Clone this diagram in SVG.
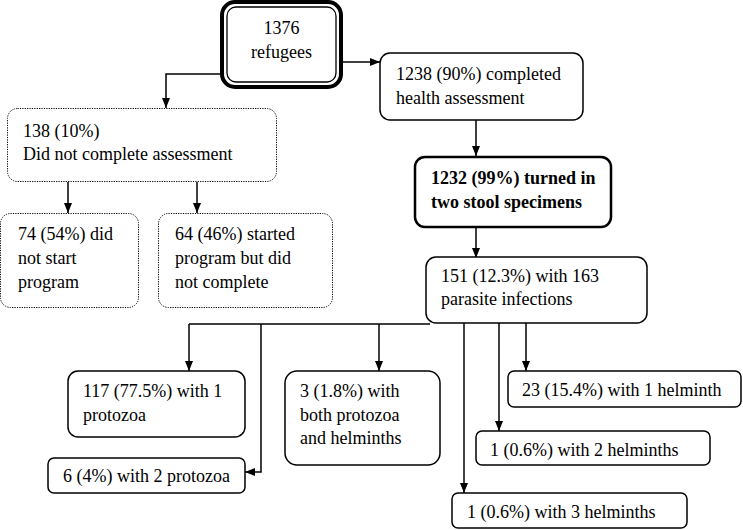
<svg xmlns="http://www.w3.org/2000/svg" width="743" height="530" viewBox="0 0 743 530">
<defs>
<marker id="ah" viewBox="0 0 10 8" refX="10" refY="4" markerWidth="10" markerHeight="8" markerUnits="userSpaceOnUse" orient="auto">
<path d="M0,0 L10,4 L0,8 z" fill="#000"/>
</marker>
<style>
.box{fill:#fff;stroke:#000;stroke-width:1.5}
.dot{fill:#fff;stroke:#000;stroke-width:1;stroke-dasharray:1.2,1.2}
.thick{fill:#fff;stroke:#000;stroke-width:2.5}
.c{fill:none;stroke:#000;stroke-width:1.5}
.a{fill:none;stroke:#000;stroke-width:1.5;marker-end:url(#ah)}
</style>
</defs>
<rect width="743" height="530" fill="#fff"/>
<g id="connectors">
<path class="a" d="M222,74 H166 V108"/>
<path class="a" d="M342,62 H380"/>
<path class="a" d="M476,120 V156"/>
<path class="a" d="M476,228 V258"/>
<path class="a" d="M68,182 V213"/>
<path class="a" d="M197,182 V213"/>
<path class="c" d="M189,324 H430"/>
<path class="a" d="M189,324 V371"/>
<path class="a" d="M261,324 V472 H245"/>
<path class="a" d="M379,324 V371"/>
<path class="a" d="M464,323 V493"/>
<path class="a" d="M499,323 V431"/>
<path class="a" d="M526,323 V371"/>
</g>
<g font-family="Liberation Serif" font-size="18" fill="#000">
<g id="n1376">
<rect x="222" y="2" width="119" height="85" rx="13" fill="#fff" stroke="#000" stroke-width="4"/>
<rect x="227" y="7" width="109" height="75" rx="9" fill="none" stroke="#000" stroke-width="1.3"/>
<text x="281.5" y="34" text-anchor="middle">1376</text>
<text x="281.5" y="58" text-anchor="middle">refugees</text>
</g>
<g id="n1238">
<rect class="box" x="380" y="53" width="203" height="67" rx="10"/>
<text x="396" y="80">1238 (90%) completed</text>
<text x="396" y="104">health assessment</text>
</g>
<g id="n1232">
<rect class="thick" x="415" y="157" width="196" height="70" rx="10"/>
<text x="431" y="184" font-weight="bold">1232 (99%) turned in</text>
<text x="431" y="208" font-weight="bold">two stool specimens</text>
</g>
<g id="n151">
<rect class="box" x="426" y="257" width="221" height="66" rx="10"/>
<text x="441" y="282">151 (12.3%) with 163</text>
<text x="441" y="305">parasite infections</text>
</g>
<g id="n138">
<rect class="dot" x="7.5" y="108.5" width="269" height="73" rx="10"/>
<text x="23" y="137">138 (10%)</text>
<text x="23" y="160">Did not complete assessment</text>
</g>
<g id="n74">
<rect class="dot" x="0.5" y="213.5" width="138" height="94" rx="10"/>
<text x="18" y="240">74 (54%) did</text>
<text x="18" y="264">not start</text>
<text x="18" y="288">program</text>
</g>
<g id="n64">
<rect class="dot" x="158.5" y="213.5" width="174" height="94" rx="10"/>
<text x="175" y="240">64 (46%) started</text>
<text x="175" y="264">program but did</text>
<text x="175" y="288">not complete</text>
</g>
<g id="n117">
<rect class="box" x="68" y="371" width="177" height="66" rx="10"/>
<text x="83" y="397">117 (77.5%) with 1</text>
<text x="83" y="421">protozoa</text>
</g>
<g id="n6">
<rect class="box" x="48" y="458" width="197" height="35" rx="6"/>
<text x="63" y="482">6 (4%) with 2 protozoa</text>
</g>
<g id="n3">
<rect class="box" x="285" y="371" width="155" height="94" rx="12"/>
<text x="300" y="397">3 (1.8%) with</text>
<text x="300" y="421">both protozoa</text>
<text x="300" y="444">and helminths</text>
</g>
<g id="n23">
<rect class="box" x="508" y="371" width="233" height="36" rx="6"/>
<text x="522" y="396">23 (15.4%) with 1 helminth</text>
</g>
<g id="n1h2">
<rect class="box" x="476" y="431" width="234" height="34" rx="6"/>
<text x="490" y="456">1 (0.6%) with 2 helminths</text>
</g>
<g id="n1h3">
<rect class="box" x="452" y="493" width="235" height="35" rx="6"/>
<text x="467" y="518">1 (0.6%) with 3 helminths</text>
</g>
</g>
</svg>
